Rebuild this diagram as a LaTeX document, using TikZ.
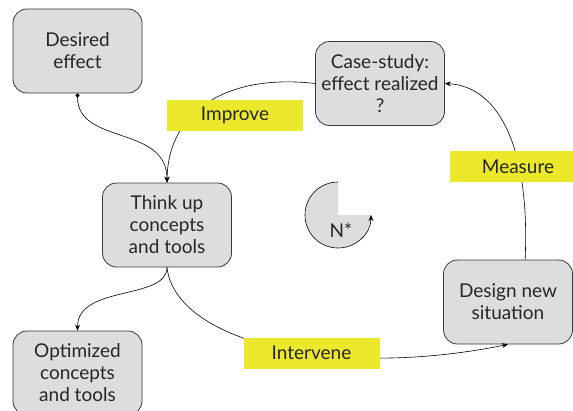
\documentclass[tikz,border=0pt]{standalone}
\usepackage{fontspec}
\setmainfont{Lato}
\usetikzlibrary{arrows.meta}
\definecolor{boxgrey}{HTML}{DCDDDF}
\definecolor{edgegrey}{HTML}{3A3A3A}
\definecolor{labelyellow}{HTML}{ECE82C}

\begin{document}
\begin{tikzpicture}[x=1pt,y=-1pt,>={Stealth[length=6pt,width=5pt]},
	stepbox/.style={draw=edgegrey,fill=boxgrey,rounded corners=14pt,line width=0.8pt,
		minimum width=129pt,minimum height=84pt,inner sep=0pt,align=center,
		text=black!85,font=\fontsize{19}{22}\selectfont},
	tag/.style={fill=labelyellow,minimum width=136pt,minimum height=31pt,inner sep=0pt,
		text=black!85,font=\fontsize{19}{22}\selectfont},
	link/.style={draw=black,line width=0.6pt}
	]

	\useasboundingbox (0,0) rectangle (573,410);

	% the boxes
	\node[stepbox] (desired) at (77.5,51) {Desired\\effect};
	\node[stepbox] (casestudy) at (380,83.5) {Case-study:\\effect realized\\?};
	\node[stepbox] (thinkup) at (167,225) {Think up\\concepts\\and tools};
	\node[stepbox] (optimized) at (77.5,373) {Optimized\\concepts\\and tools};
	\node[stepbox] (design) at (508,302) {Design new\\situation};

	% the cycle
	\draw[link,{Circle[length=4pt]}->] (desired.south) .. controls +(0,52) and +(0,-58) .. (thinkup.north);
	\draw[link,->] (casestudy.west) .. controls +(-86,-10) and +(1,-73) .. (thinkup.north);
	\draw[link,->] (thinkup.south) .. controls +(0,33) and +(0,-46) .. (optimized.north);
	\draw[link,->] (thinkup.south) .. controls +(8,73) and +(-178,36) .. (design.south);
	\draw[link,->] (design.68) .. controls +(5,-110) and +(55,3) .. (casestudy.east);

	% labels on top of the lines
	\node[tag] (improve) at (235,115.5) {Improve};
	\node[tag] (measure) at (518,166.5) {Measure};
	\node[tag] (intervene) at (311.5,353) {Intervene};

	% N* symbol
	\coordinate (ncentre) at (338,215);
	\fill[boxgrey] (ncentre) -- ++(0,-33) arc[start angle=270,end angle=0,radius=33] -- cycle;
	\draw[link,->] ([yshift=33pt]ncentre) arc[start angle=270,end angle=0,radius=33];
	\node[text=black!85,font=\fontsize{19}{22}\selectfont] (nstar) at (341,230) {N*};

\end{tikzpicture}
\end{document}
